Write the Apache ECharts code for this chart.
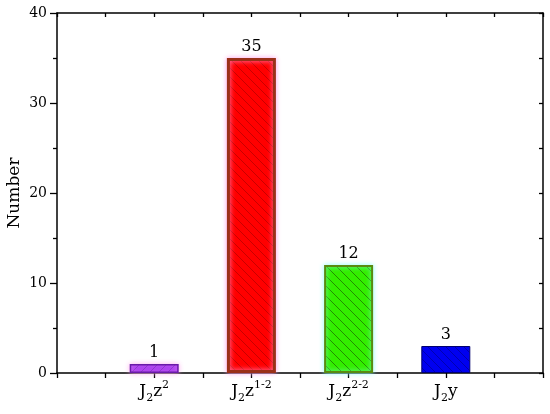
<!DOCTYPE html>
<html>
<head>
<meta charset="utf-8">
<script src="https://cdn.jsdelivr.net/npm/echarts@6/dist/echarts.min.js"></script>
<style>
  html, body { margin: 0; padding: 0; background: #fff; }
  #main { width: 550px; height: 414px; }
</style>
</head>
<body>
<div id="main"></div>
<script>
var categories = ['J_2z^2', 'J_2z^{1-2}', 'J_2z^{2-2}', 'J_2y'];
var counts = [1, 35, 12, 3];
var yTicks = [0, 10, 20, 30, 40];

// fill, hatch line, border, hatch direction
var barStyles = [
    { fill: '#a030f0', line: '#7a20c8', border: '#6a1aa8', dir: '/', gap: 9, bw: 1.5, glow: 'rgba(255,170,240,0.9)' },
    { fill: '#ff0000', line: '#c80000', border: '#9a3018', dir: '\\', gap: 9, bw: 3, glow: 'rgba(255,160,235,0.9)' },
    { fill: '#33ee00', line: '#238f00', border: '#5a8a10', dir: '\\', gap: 10, bw: 2, glow: 'rgba(140,255,250,0.9)' },
    { fill: '#0000f0', line: '#0000b0', border: '#000070', dir: '\\', gap: 9, bw: 1, glow: null }
];

var FONT = 'DejaVu Serif';

function hatch(fill, line, dir, gap) {
    var c = document.createElement('canvas');
    c.width = gap; c.height = gap;
    var g = c.getContext('2d');
    g.fillStyle = fill;
    g.fillRect(0, 0, gap, gap);
    g.strokeStyle = line;
    g.lineWidth = 1;
    g.beginPath();
    if (dir === '/') {
        g.moveTo(-1, gap + 1); g.lineTo(gap + 1, -1);
        g.moveTo(-1, 1); g.lineTo(1, -1);
        g.moveTo(gap - 1, gap + 1); g.lineTo(gap + 1, gap - 1);
    } else {
        g.moveTo(-1, -1); g.lineTo(gap + 1, gap + 1);
        g.moveTo(gap - 1, -1); g.lineTo(gap + 1, 1);
        g.moveTo(-1, gap - 1); g.lineTo(1, gap + 1);
    }
    g.stroke();
    return c;
}

// 'J_2z^{1-2}' -> rich text
function toRich(s) {
    var out = '';
    var re = /([_^])(\{([^}]*)\}|(.))|([^_^]+)/g, m;
    while ((m = re.exec(s)) !== null) {
        if (m[5]) out += '{n|' + m[5] + '}';
        else out += '{' + (m[1] === '_' ? 'sub' : 'sup') + '|' + (m[3] !== undefined ? m[3] : m[4]) + '}';
    }
    return out;
}

var barData = counts.map(function (v, i) {
    var st = barStyles[i];
    var item = {
        value: [i + 1, v],
        itemStyle: {
            color: { image: hatch(st.fill, st.line, st.dir, st.gap), repeat: 'repeat' },
            borderColor: st.border,
            borderWidth: st.bw
        }
    };
    if (st.glow) {
        item.itemStyle.shadowColor = st.glow;
        item.itemStyle.shadowBlur = 5;
    }
    return item;
});

var myChart = echarts.init(document.getElementById('main'));

var frameLine = { onZero: false, lineStyle: { color: '#000', width: 1.5 } };

var option = {
    backgroundColor: '#fff',
    animation: false,
    grid: { left: 57, right: 7, top: 13, bottom: 41, containLabel: false, outerBoundsMode: 'none' },
    xAxis: [{
        type: 'value',
        min: 0,
        max: categories.length + 1,
        interval: 0.5,
        splitLine: { show: false },
        axisLine: frameLine,
        axisTick: { inside: false, length: 5, lineStyle: { color: '#000', width: 1.3 } },
        axisLabel: {
            margin: 7,
            showMinLabel: true,
            showMaxLabel: true,
            formatter: function (v) {
                var i = Math.round(v * 2) / 2;
                if (i % 1 !== 0 || i < 1 || i > categories.length) return '';
                return toRich(categories[i - 1]);
            },
            rich: {
                n: { fontFamily: FONT, fontSize: 17, color: '#000', lineHeight: 24 },
                sub: { fontFamily: FONT, fontSize: 11, color: '#000', lineHeight: 12, verticalAlign: 'bottom' },
                sup: { fontFamily: FONT, fontSize: 11, color: '#000', lineHeight: 20, verticalAlign: 'top' }
            }
        }
    }, {
        type: 'value',
        position: 'top',
        min: 0,
        max: categories.length + 1,
        interval: 0.5,
        splitLine: { show: false },
        axisLine: frameLine,
        axisTick: { inside: true, length: 4, lineStyle: { color: '#000', width: 1.3 } },
        axisLabel: { show: false }
    }],
    yAxis: [{
        type: 'value',
        min: yTicks[0],
        max: yTicks[yTicks.length - 1],
        interval: yTicks[1] - yTicks[0],
        name: 'Number',
        nameLocation: 'middle',
        nameGap: 34,
        nameMoveOverlap: false,
        nameTextStyle: { fontFamily: FONT, fontSize: 17, color: '#000' },
        splitLine: { show: false },
        axisLine: { show: true, onZero: false, lineStyle: { color: '#000', width: 1.5 } },
        axisTick: { inside: false, length: 7, lineStyle: { color: '#000', width: 1.3 } },
        minorTick: { show: true, splitNumber: 2, length: 4, lineStyle: { color: '#000', width: 1.3 } },
        axisLabel: { margin: 10, fontFamily: FONT, fontSize: 14, color: '#000' }
    }, {
        type: 'value',
        position: 'right',
        min: yTicks[0],
        max: yTicks[yTicks.length - 1],
        interval: 5,
        splitLine: { show: false },
        axisLine: { show: true, onZero: false, lineStyle: { color: '#000', width: 1.5 } },
        axisTick: { inside: true, length: 4, lineStyle: { color: '#000', width: 1.3 } },
        axisLabel: { show: false }
    }],
    series: [{
        type: 'bar',
        xAxisIndex: 0,
        yAxisIndex: 0,
        barWidth: 49,
        data: barData,
        label: {
            show: true,
            position: 'top',
            distance: 3,
            fontFamily: FONT,
            fontSize: 16,
            color: '#000',
            formatter: function (p) { return p.value[1]; }
        }
    }]
};

myChart.setOption(option);
</script>
</body>
</html>
